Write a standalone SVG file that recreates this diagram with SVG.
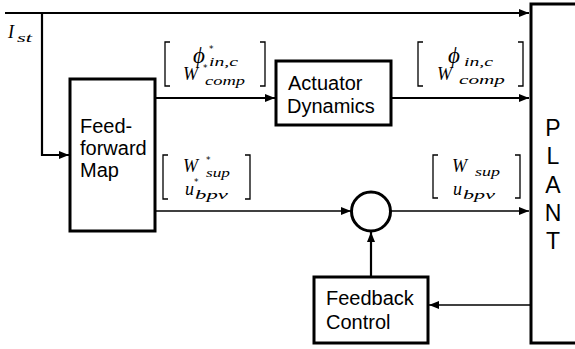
<svg xmlns="http://www.w3.org/2000/svg" width="575" height="349" viewBox="0 0 575 349">
<style>
.box{fill:#fff;stroke:#000;stroke-width:3}
.lbl{font-family:"Liberation Sans",Arial,sans-serif;font-size:20px;fill:#000}
.plant{font-family:"Liberation Sans",Arial,sans-serif;font-size:23px;fill:#000;text-anchor:middle}
.w{stroke:#000;stroke-width:2.2;fill:none}
.t{stroke:#000;stroke-width:1.4;fill:none}
.br{stroke:#000;stroke-width:1.3;fill:none}
.m{font-family:"Liberation Serif","Times New Roman",serif;font-style:italic;font-size:18px;fill:#000}
.ph{font-size:23px}
.s{font-size:13px}
.st{font-family:"DejaVu Sans",sans-serif;font-style:normal;font-size:9px}
</style>
<defs>
<marker id="ah" viewBox="0 0 10 8" refX="10" refY="4" markerWidth="10" markerHeight="8" markerUnits="userSpaceOnUse" orient="auto">
<path d="M0,0 L10,4 L0,8 Z" fill="#000"/>
</marker>
</defs>
<g id="connectors">
<path class="w" d="M5,13 H529" marker-end="url(#ah)"/>
<path class="w" d="M42,13 V155 H69" marker-end="url(#ah)"/>
<path class="w" d="M155,98 H275" marker-end="url(#ah)"/>
<path class="w" d="M391,98 H529" marker-end="url(#ah)"/>
<path class="t" d="M155,211 H351" marker-end="url(#ah)"/>
<path class="t" d="M391,211 H529" marker-end="url(#ah)"/>
<path class="w" d="M371,277 V232" marker-end="url(#ah)"/>
<path class="t" d="M531,305 H429" marker-end="url(#ah)"/>
</g>
<g id="feedforward">
<rect class="box" x="70" y="79" width="85" height="152"/>
<text class="lbl" x="80" y="133">Feed-</text>
<text class="lbl" x="80" y="155">forward</text>
<text class="lbl" x="80" y="177">Map</text>
</g>
<g id="actuator">
<rect class="box" x="276" y="61" width="115" height="64"/>
<text class="lbl" x="288" y="90">Actuator</text>
<text class="lbl" x="287" y="113">Dynamics</text>
</g>
<g id="sum">
<circle cx="371" cy="211.5" r="19.5" fill="#fff" stroke="#000" stroke-width="3"/>
</g>
<g id="feedback">
<rect class="box" x="314" y="277" width="114" height="66"/>
<text class="lbl" x="326" y="305">Feedback</text>
<text class="lbl" x="326" y="329">Control</text>
</g>
<g id="plant">
<rect class="box" x="531" y="4" width="60" height="339"/>
<text class="plant" x="553" y="136">P</text>
<text class="plant" x="553" y="164">L</text>
<text class="plant" x="553" y="193">A</text>
<text class="plant" x="553" y="221">N</text>
<text class="plant" x="553" y="249">T</text>
</g>
<g id="labels">
<text class="m" x="8" y="38">I<tspan class="s" x="17" y="42" textLength="15" lengthAdjust="spacingAndGlyphs">st</tspan></text>
<path class="br" d="M170,42 H165 V86 H170 M260,42 H265 V86 H260"/>
<text class="m"><tspan class="ph" x="193" y="63">ϕ</tspan><tspan class="st" x="209" y="51.5">*</tspan><tspan class="s" x="209" y="66" textLength="29" lengthAdjust="spacingAndGlyphs">in,c</tspan><tspan x="183" y="80">W</tspan><tspan class="st" x="203" y="71">*</tspan><tspan class="s" x="205" y="85" textLength="40" lengthAdjust="spacingAndGlyphs">comp</tspan></text>
<path class="br" d="M423,42 H418 V86 H423 M518,42 H523 V86 H518"/>
<text class="m"><tspan class="ph" x="448" y="63">ϕ</tspan><tspan class="s" x="464" y="66" textLength="29" lengthAdjust="spacingAndGlyphs">in,c</tspan><tspan x="437" y="80">W</tspan><tspan class="s" x="459" y="84" textLength="46" lengthAdjust="spacingAndGlyphs">comp</tspan></text>
<path class="br" d="M168,155 H163 V199 H168 M245,155 H250 V199 H245"/>
<text class="m"><tspan x="183" y="172">W</tspan><tspan class="st" x="206" y="163">*</tspan><tspan class="s" x="206" y="177" textLength="24" lengthAdjust="spacingAndGlyphs">sup</tspan><tspan x="185" y="195">u</tspan><tspan class="st" x="194" y="185">*</tspan><tspan class="s" x="195" y="199" textLength="33" lengthAdjust="spacingAndGlyphs">bpv</tspan></text>
<path class="br" d="M438,155 H433 V198 H438 M515,155 H520 V198 H515"/>
<text class="m"><tspan x="452" y="172">W</tspan><tspan class="s" x="475" y="176" textLength="25" lengthAdjust="spacingAndGlyphs">sup</tspan><tspan x="453" y="195">u</tspan><tspan class="s" x="463" y="199" textLength="32" lengthAdjust="spacingAndGlyphs">bpv</tspan></text>
</g>
</svg>
